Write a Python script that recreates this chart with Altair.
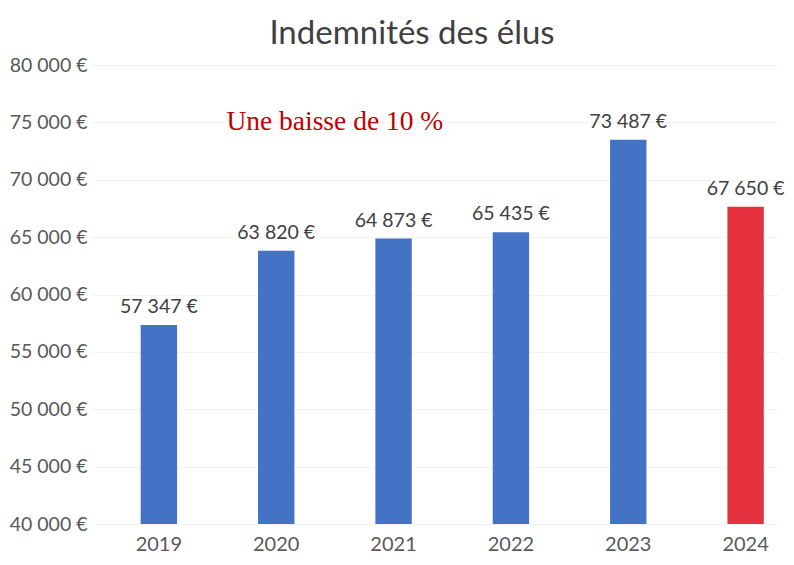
import altair as alt
import pandas as pd

years = ["2019", "2020", "2021", "2022", "2023", "2024"]
values = [57347, 63820, 64873, 65435, 73487, 67650]
bar_colors = ["#4472C4", "#4472C4", "#4472C4", "#4472C4", "#4472C4", "#E5323E"]
y_ticks = [40000, 45000, 50000, 55000, 60000, 65000, 70000, 75000, 80000]
title_text = "Indemnités des élus"
annotation = "Une baisse de 10 %"

labels = [f"{v:,}".replace(",", " ") + " €" for v in values]
df = pd.DataFrame({"year": years, "value": values, "color": bar_colors, "label": labels})

x = alt.X(
    "year:N",
    title=None,
    sort=years,
    scale=alt.Scale(paddingInner=0.69, paddingOuter=0.268, align=0.79),
    axis=alt.Axis(labelAngle=0, labelFontSize=20, labelFont="Lato", labelColor="#595959",
                  domain=False, ticks=False, labelPadding=10, grid=False),
)
y = alt.Y(
    "value:Q",
    title=None,
    scale=alt.Scale(domain=[40000, 80000], nice=False, zero=False),
    axis=alt.Axis(values=y_ticks,
                  labelExpr="replace(format(datum.value, ',.0f'), ',', ' ') + ' €'",
                  labelFontSize=19.5, labelFont="Lato", labelColor="#595959",
                  domain=False, ticks=False, labelPadding=4,
                  grid=True, gridColor="#f3f3f3"),
)

base = alt.Chart(df)
bars = base.mark_bar().encode(
    x=x, y=y, y2=alt.datum(40000),
    color=alt.Color("color:N", scale=None),
)
texts = base.mark_text(baseline="alphabetic", dy=-12, fontSize=19.5, font="Lato",
                       color="#404040").encode(x=x, y=y, text="label:N")
annot = alt.Chart(pd.DataFrame({"t": [annotation]})).mark_text(
    font="Liberation Serif", fontSize=27.5, color="#C00000", baseline="middle", dx=58.6
).encode(x=alt.datum("2020"), y=alt.datum(75000), text="t:N")

chart = alt.layer(bars, texts, annot).properties(
    width=686, height=459,
    background="white",
    title=alt.TitleParams(title_text, font="Lato", fontSize=33, color="#404040",
                          fontWeight="normal", anchor="middle", dx=-22),
    autosize=alt.AutoSizeParams(type="none"),
    padding={"left": 83, "top": 57, "right": 9, "bottom": 29},
).configure_view(stroke=None, strokeWidth=0)

chart.save("out.html", embed_options={"renderer": "svg", "actions": False})
